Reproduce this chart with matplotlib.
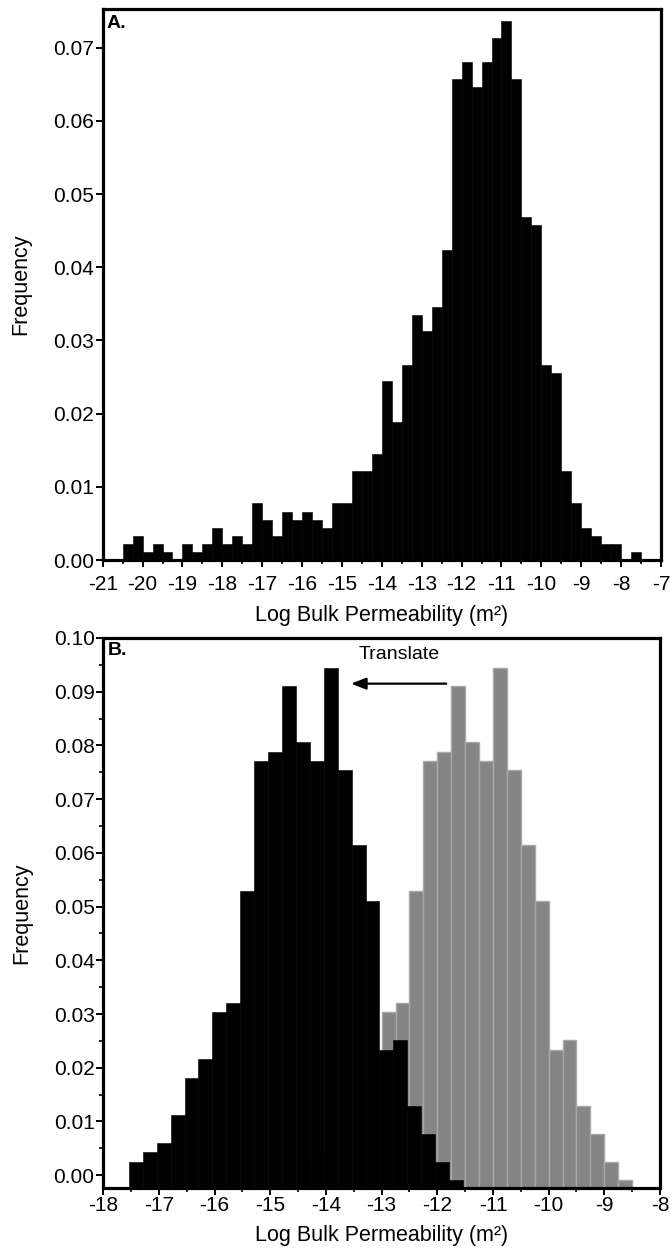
import matplotlib
matplotlib.use("Agg")
import matplotlib.pyplot as plt
from matplotlib.ticker import MultipleLocator, FormatStrFormatter
import numpy as np

plt.rcParams["font.family"] = ["Liberation Sans", "DejaVu Sans"]
plt.rcParams["axes.unicode_minus"] = False

# --- data ---
bin_width = 0.25

# Panel A: frequency per 0.25 log-unit bin, first bin starts at -20.5
a_first_edge = -20.5
freq_a = [
    0.0022, 0.0033, 0.0011, 0.0022, 0.0011, 0.0000, 0.0022, 0.0011,
    0.0022, 0.0044, 0.0022, 0.0033, 0.0022, 0.0078, 0.0055, 0.0033,
    0.0066, 0.0055, 0.0066, 0.0055, 0.0044, 0.0078, 0.0078, 0.0121,
    0.0121, 0.0145, 0.0245, 0.0189, 0.0267, 0.0335, 0.0313, 0.0346,
    0.0424, 0.0658, 0.0681, 0.0647, 0.0681, 0.0714, 0.0737, 0.0658,
    0.0469, 0.0458, 0.0267, 0.0256, 0.0121, 0.0078, 0.0044, 0.0033,
    0.0022, 0.0022, 0.0000, 0.0011,
]

# Panel B: original distribution (grey) and the translated copy (black)
b_first_edge = -14.5
translate_shift = -3.04
freq_b = [
    0.0048, 0.0066, 0.0083, 0.0135, 0.0204, 0.0239, 0.0327, 0.0344,
    0.0552, 0.0794, 0.0811, 0.0934, 0.0830, 0.0794, 0.0968, 0.0778,
    0.0638, 0.0534, 0.0256, 0.0274, 0.0152, 0.0100, 0.0048, 0.0014,
]

x_label = "Log Bulk Permeability (m²)"
y_label = "Frequency"

edges_a = a_first_edge + bin_width * np.arange(len(freq_a))
edges_grey = b_first_edge + bin_width * np.arange(len(freq_b))
edges_black = edges_grey + translate_shift

# --- figure ---
W, H = 670, 1252
fig = plt.figure(figsize=(W / 100, H / 100), dpi=100)


def px_axes(left, right, top, bottom):
    return fig.add_axes([left / W, 1 - bottom / H, (right - left) / W, (bottom - top) / H])


def style(ax, label_pad):
    for s in ax.spines.values():
        s.set_linewidth(2.3)
    ax.tick_params(which="major", direction="out", length=4.8, width=1.4,
                   labelsize=15, colors="black")
    ax.tick_params(which="minor", direction="out", length=3.0, width=1.2)
    ax.tick_params(axis="x", which="major", pad=label_pad)
    ax.tick_params(axis="y", which="major", pad=1.5)
    ax.yaxis.set_major_formatter(FormatStrFormatter("%.2f"))
    ax.xaxis.set_major_locator(MultipleLocator(1))
    ax.xaxis.set_minor_locator(MultipleLocator(0.5))
    ax.set_ylabel(y_label, fontsize=15.5)
    ax.yaxis.set_label_coords(-0.128, 0.5)


# Panel A
ax1 = px_axes(102.7, 661, 9, 560)
ax1.bar(edges_a, freq_a, width=bin_width, align="edge", color="black",
        edgecolor="black", linewidth=0.4)
ax1.set_xlim(-21, -7)
ax1.set_ylim(0, 0.0753)
ax1.yaxis.set_major_locator(MultipleLocator(0.01))
style(ax1, 6)
ax1.set_xlabel(x_label, fontsize=15.5)
ax1.xaxis.set_label_coords(0.5, -0.1)
ax1.xaxis.label.set_verticalalignment("center")
ax1.text(0.007, 0.99, "A.", transform=ax1.transAxes, fontsize=14,
         fontweight="bold", ha="left", va="top")

# Panel B
y_floor = -0.0023
ax2 = px_axes(103.3, 660, 638, 1187.5)
ax2.bar(edges_grey, freq_b, width=bin_width, bottom=y_floor, align="edge",
        color="#858585", edgecolor="#a8a8a8", linewidth=1.0, zorder=1)
ax2.bar(edges_black, freq_b, width=bin_width, bottom=y_floor, align="edge",
        color="black", edgecolor="black", linewidth=0.4, zorder=2)
ax2.set_xlim(-18, -8)
ax2.set_ylim(y_floor, 0.10)
ax2.yaxis.set_major_locator(MultipleLocator(0.01))
ax2.yaxis.set_minor_locator(MultipleLocator(0.005))
style(ax2, 1)
ax2.set_xlabel(x_label, fontsize=15.5)
ax2.xaxis.set_label_coords(0.5, -0.088)
ax2.xaxis.label.set_verticalalignment("center")
ax2.text(0.008, 0.993, "B.", transform=ax2.transAxes, fontsize=14,
         fontweight="bold", ha="left", va="top")

ax2.annotate("", xy=(-13.55, 0.0915), xytext=(-11.84, 0.0915),
             arrowprops=dict(arrowstyle="-|>,head_length=0.9,head_width=0.35",
                             color="black", lw=1.6, shrinkA=0, shrinkB=0))
ax2.text(-12.69, 0.0969, "Translate", fontsize=14, ha="center", va="center")

fig.savefig("out.png", dpi=100)
plt.close(fig)
